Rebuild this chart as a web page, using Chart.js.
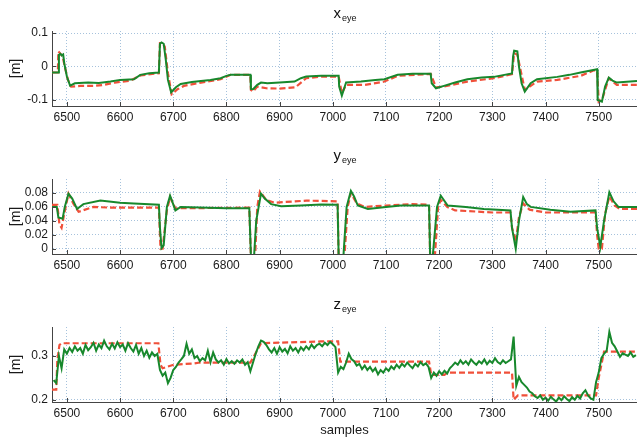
<!DOCTYPE html>
<html>
<head>
<meta charset="utf-8">
<script src="https://cdn.jsdelivr.net/npm/chart.js@4/dist/chart.umd.min.js"></script>
<style>
  html, body { margin: 0; padding: 0; background: #fff; }
  body { width: 637px; height: 444px; position: relative; overflow: hidden; }
  canvas { position: absolute; left: 0; }
</style>
</head>
<body>
<canvas id="cx" width="637" height="130" style="top:0px"></canvas>
<canvas id="cy" width="637" height="150" style="top:130px"></canvas>
<canvas id="cz" width="637" height="164" style="top:280px"></canvas>
<script>
// samples axis
const sampleMin = 6472;
const sampleMax = 7572;
const sampleTicks = [6500, 6600, 6700, 6800, 6900, 7000, 7100, 7200, 7300, 7400, 7500];

// x_eye : [sample, metres]
const xEyeGreen = [[6472,-0.018],[6484,-0.018],[6485,0.035],[6488,0.038],[6490,0.033],[6493,0.036],[6495,0.01],[6500,-0.03],[6506,-0.057],[6515,-0.05],[6540,-0.048],[6560,-0.049],[6582,-0.045],[6600,-0.040],[6626,-0.038],[6638,-0.025],[6655,-0.02],[6673,-0.018],[6675,0.068],[6678,0.072],[6682,0.068],[6686,0.02],[6690,-0.04],[6696,-0.077],[6705,-0.062],[6714,-0.052],[6735,-0.046],[6752,-0.043],[6770,-0.04],[6789,-0.035],[6800,-0.028],[6808,-0.025],[6845,-0.025],[6846,-0.067],[6850,-0.068],[6858,-0.055],[6865,-0.048],[6877,-0.05],[6900,-0.048],[6928,-0.045],[6940,-0.035],[6950,-0.03],[6978,-0.028],[7011,-0.028],[7012,-0.06],[7017,-0.087],[7025,-0.048],[7053,-0.045],[7080,-0.04],[7097,-0.038],[7122,-0.025],[7150,-0.022],[7184,-0.022],[7186,-0.05],[7194,-0.065],[7209,-0.058],[7230,-0.048],[7253,-0.038],[7280,-0.033],[7303,-0.031],[7337,-0.021],[7339,0.03],[7341,0.047],[7347,0.045],[7350,0.0],[7355,-0.05],[7361,-0.075],[7372,-0.05],[7384,-0.038],[7422,-0.031],[7445,-0.025],[7466,-0.018],[7497,-0.008],[7498,-0.1],[7506,-0.105],[7512,-0.06],[7519,-0.033],[7526,-0.042],[7534,-0.048],[7572,-0.043]];
const xEyeRed = [[6472,-0.018],[6483,-0.018],[6484,0.045],[6487,0.04],[6492,0.03],[6496,0.0],[6502,-0.04],[6508,-0.06],[6525,-0.058],[6550,-0.058],[6570,-0.055],[6590,-0.048],[6620,-0.042],[6638,-0.027],[6673,-0.02],[6675,0.07],[6678,0.07],[6684,0.06],[6690,-0.02],[6697,-0.083],[6708,-0.068],[6720,-0.058],[6752,-0.048],[6789,-0.038],[6808,-0.025],[6845,-0.025],[6846,-0.07],[6850,-0.075],[6858,-0.06],[6875,-0.065],[6900,-0.066],[6930,-0.062],[6950,-0.035],[6978,-0.03],[7011,-0.03],[7017,-0.08],[7025,-0.055],[7060,-0.055],[7097,-0.045],[7122,-0.028],[7184,-0.022],[7194,-0.062],[7209,-0.06],[7253,-0.045],[7303,-0.035],[7337,-0.023],[7341,0.04],[7347,0.035],[7361,-0.07],[7384,-0.045],[7422,-0.04],[7466,-0.028],[7490,-0.012],[7497,-0.012],[7500,-0.105],[7506,-0.1],[7519,-0.035],[7534,-0.055],[7572,-0.055]];

// y_eye
const yEyeGreen = [[6472,0.060],[6481,0.060],[6484,0.045],[6492,0.043],[6496,0.06],[6503,0.079],[6510,0.072],[6519,0.057],[6531,0.064],[6563,0.069],[6600,0.066],[6626,0.065],[6673,0.063],[6675,0.03],[6678,0.001],[6682,0.005],[6688,0.06],[6694,0.076],[6698,0.068],[6704,0.055],[6714,0.06],[6750,0.059],[6800,0.058],[6843,0.058],[6846,-0.01],[6852,-0.01],[6856,0.04],[6865,0.079],[6872,0.072],[6884,0.064],[6903,0.061],[6940,0.062],[6978,0.0635],[7009,0.063],[7011,-0.01],[7020,-0.01],[7026,0.06],[7034,0.083],[7040,0.075],[7047,0.062],[7066,0.057],[7100,0.06],[7128,0.062],[7181,0.062],[7183,-0.01],[7188,-0.01],[7196,0.06],[7203,0.076],[7216,0.062],[7250,0.06],[7284,0.057],[7334,0.055],[7337,0.03],[7344,0.0],[7350,0.04],[7358,0.074],[7365,0.064],[7372,0.06],[7409,0.056],[7447,0.053],[7494,0.055],[7497,0.03],[7503,0.003],[7510,0.04],[7520,0.081],[7528,0.068],[7537,0.06],[7572,0.06]];
const yEyeRed = [[6472,0.063],[6482,0.063],[6486,0.035],[6490,0.03],[6495,0.05],[6503,0.079],[6512,0.065],[6522,0.053],[6550,0.06],[6580,0.059],[6673,0.059],[6676,0.0],[6680,0.0],[6688,0.055],[6694,0.074],[6704,0.058],[6843,0.059],[6846,-0.01],[6854,-0.01],[6858,0.06],[6863,0.082],[6875,0.07],[6890,0.066],[6950,0.069],[7009,0.068],[7011,-0.01],[7022,-0.01],[7028,0.06],[7034,0.08],[7045,0.065],[7060,0.06],[7100,0.062],[7150,0.064],[7181,0.063],[7183,-0.01],[7192,-0.01],[7198,0.06],[7203,0.07],[7215,0.06],[7230,0.055],[7300,0.052],[7334,0.052],[7337,0.03],[7344,0.01],[7350,0.045],[7358,0.065],[7370,0.056],[7400,0.052],[7494,0.052],[7497,0.02],[7500,0.0],[7506,0.0],[7512,0.05],[7520,0.075],[7530,0.062],[7540,0.057],[7572,0.057]];

// z_eye : green sampled every 5 samples from 6475
const zEyeGreenStart = 6475;
const zEyeGreenStep = 5;
const zEyeGreen = [
  0.245, 0.238, 0.300, 0.272, 0.315, 0.305, 0.318, 0.309, 0.322, 0.312,
  0.318, 0.305, 0.325, 0.313, 0.320, 0.330, 0.312, 0.326, 0.318, 0.335,
  0.322, 0.315, 0.328, 0.317, 0.331, 0.320, 0.326, 0.312, 0.329, 0.318,
  0.310, 0.325, 0.305, 0.318, 0.300, 0.312, 0.296, 0.308, 0.300, 0.305,
  0.268, 0.255, 0.262, 0.238, 0.250, 0.268, 0.275, 0.285, 0.292, 0.300,
  0.328, 0.305, 0.315, 0.295, 0.300, 0.288, 0.295, 0.290, 0.312, 0.286,
  0.308, 0.292, 0.285, 0.290, 0.280, 0.293, 0.283, 0.288, 0.282, 0.290,
  0.285, 0.292, 0.280, 0.286, 0.265, 0.285, 0.305, 0.322, 0.335, 0.332,
  0.325, 0.315, 0.308, 0.318, 0.305, 0.320, 0.310, 0.316, 0.306, 0.322,
  0.312, 0.318, 0.308, 0.320, 0.313, 0.322, 0.315, 0.326, 0.318, 0.325,
  0.328, 0.322, 0.330, 0.325, 0.332, 0.327, 0.320, 0.262, 0.275, 0.270,
  0.285, 0.305, 0.293, 0.288, 0.278, 0.282, 0.270, 0.278, 0.268, 0.275,
  0.265, 0.272, 0.258, 0.268, 0.262, 0.272, 0.266, 0.276, 0.270, 0.280,
  0.273, 0.282, 0.276, 0.285, 0.278, 0.272, 0.282, 0.276, 0.286, 0.279,
  0.283, 0.275, 0.250, 0.262, 0.255, 0.265, 0.258, 0.266, 0.260, 0.272,
  0.278, 0.285, 0.280, 0.290, 0.282, 0.288, 0.280, 0.292, 0.285, 0.280,
  0.288, 0.283, 0.292, 0.281, 0.289, 0.284, 0.295, 0.286, 0.282, 0.290,
  0.284, 0.288, 0.292, 0.344, 0.232, 0.252, 0.240, 0.234, 0.228, 0.219,
  0.215, 0.208, 0.204, 0.210, 0.200, 0.205, 0.198, 0.207, 0.201, 0.196,
  0.205, 0.199, 0.208, 0.202, 0.197, 0.206, 0.200, 0.209, 0.203, 0.215,
  0.222, 0.210, 0.203, 0.200, 0.240, 0.262, 0.295, 0.305, 0.312, 0.355,
  0.330, 0.322, 0.310, 0.298, 0.306, 0.303, 0.300, 0.308, 0.298, 0.302
];
const zEyeRed = [[6472,0.223],[6480,0.223],[6482,0.29],[6486,0.325],[6490,0.329],[6672,0.329],[6676,0.28],[6680,0.272],[6701,0.28],[6739,0.283],[6750,0.285],[6845,0.285],[6852,0.3],[6865,0.329],[6978,0.333],[7010,0.333],[7014,0.287],[7181,0.287],[7185,0.257],[7210,0.257],[7215,0.262],[7337,0.262],[7340,0.2],[7348,0.21],[7495,0.21],[7500,0.25],[7510,0.31],[7572,0.31]];

const xEyeTicks = [-0.1, 0, 0.1];
const yEyeTicks = [0, 0.02, 0.04, 0.06, 0.08];
const zEyeTicks = [0.2, 0.3];

const FONT = '"Liberation Sans", Arial, Helvetica, sans-serif';
const GREEN = '#17882c';
const RED = '#f0503a';

const toXY = arr => arr.map(p => ({ x: p[0], y: p[1] }));
const zGreenXY = zEyeGreen.map((v, i) => ({ x: zEyeGreenStart + i * zEyeGreenStep, y: v }));

// title with subscript, e.g. x_eye
const subTitle = {
  id: 'subTitle',
  afterDraw(chart, args, opts) {
    const ctx = chart.ctx;
    const cx = (chart.chartArea.left + chart.chartArea.right) / 2;
    ctx.save();
    ctx.fillStyle = '#111';
    ctx.textBaseline = 'alphabetic';
    ctx.font = '15px ' + FONT;
    const w1 = ctx.measureText(opts.main).width;
    ctx.font = '9px ' + FONT;
    const w2 = ctx.measureText(opts.sub).width;
    const x0 = cx - (w1 + w2) / 2;
    ctx.font = '15px ' + FONT;
    ctx.fillText(opts.main, x0, opts.y);
    ctx.font = '9px ' + FONT;
    ctx.fillText(opts.sub, x0 + w1 + 1, opts.y + 3);
    ctx.restore();
  }
};

// small inward tick marks on the axes, MATLAB style
const innerTicks = {
  id: 'innerTicks',
  afterDatasetsDraw(chart) {
    const ctx = chart.ctx;
    const a = chart.chartArea;
    ctx.save();
    ctx.strokeStyle = '#444';
    ctx.lineWidth = 1;
    ctx.beginPath();
    chart.scales.x.ticks.forEach(t => {
      const px = Math.round(chart.scales.x.getPixelForValue(t.value)) + 0.5;
      ctx.moveTo(px, a.bottom);
      ctx.lineTo(px, a.bottom - 4);
    });
    chart.scales.y.ticks.forEach(t => {
      const py = Math.round(chart.scales.y.getPixelForValue(t.value)) + 0.5;
      ctx.moveTo(a.left, py);
      ctx.lineTo(a.left + 4, py);
    });
    ctx.stroke();
    ctx.restore();
  }
};

function panel(id, opts) {
  const h = document.getElementById(id).height;
  new Chart(document.getElementById(id), {
    type: 'line',
    data: {
      datasets: [
        { data: opts.green, borderColor: GREEN, borderWidth: 2, pointRadius: 0, tension: 0, order: 1 },
        { data: opts.red, borderColor: RED, borderWidth: 2.2, borderDash: [6, 3], pointRadius: 0, tension: 0, order: 2 }
      ]
    },
    options: {
      responsive: false,
      devicePixelRatio: 1,
      animation: false,
      layout: { padding: { top: opts.top, right: 0, left: 0, bottom: 0 } },
      plugins: {
        legend: { display: false },
        tooltip: { enabled: false },
        subTitle: { main: opts.main, sub: 'eye', y: opts.titleY }
      },
      scales: {
        x: {
          type: 'linear',
          min: sampleMin,
          max: sampleMax,
          afterBuildTicks: s => { s.ticks = sampleTicks.map(v => ({ value: v })); },
          afterFit: s => { s.height = h - opts.bottom; },
          ticks: { color: '#1a1a1a', font: { family: FONT, size: 12 }, padding: 4, maxRotation: 0, callback: v => String(v) },
          grid: { color: '#a6c2dc', lineWidth: 1, drawTicks: false },
          border: { color: '#444', width: 1, dash: [1, 2] },
          title: opts.xTitle ? { display: true, text: opts.xTitle, color: '#1a1a1a', font: { family: FONT, size: 13 }, padding: { top: 0, bottom: 6 } } : { display: false }
        },
        y: {
          min: opts.min,
          max: opts.max,
          afterBuildTicks: s => { s.ticks = opts.ticks.map(v => ({ value: v })); },
          afterFit: s => { s.width = 52; },
          ticks: { color: '#1a1a1a', font: { family: FONT, size: 12 }, padding: 4, callback: v => String(v) },
          grid: { color: '#a6c2dc', lineWidth: 1, drawTicks: false },
          border: { color: '#444', width: 1, dash: [1, 2] },
          title: { display: true, text: '[m]', color: '#1a1a1a', font: { family: FONT, size: 14 }, padding: { top: 8, bottom: 0 } }
        }
      }
    },
    plugins: [subTitle, innerTicks]
  });
}

panel('cx', { green: toXY(xEyeGreen), red: toXY(xEyeRed), min: -0.118, max: 0.106, ticks: xEyeTicks, top: 31, bottom: 106, main: 'x', titleY: 18 });
panel('cy', { green: toXY(yEyeGreen), red: toXY(yEyeRed), min: -0.0075, max: 0.1, ticks: yEyeTicks, top: 49, bottom: 124, main: 'y', titleY: 30 });
panel('cz', { green: zGreenXY, red: toXY(zEyeRed), min: 0.195, max: 0.366, ticks: zEyeTicks, top: 47, bottom: 122, main: 'z', titleY: 29, xTitle: 'samples' });
</script>
</body>
</html>
